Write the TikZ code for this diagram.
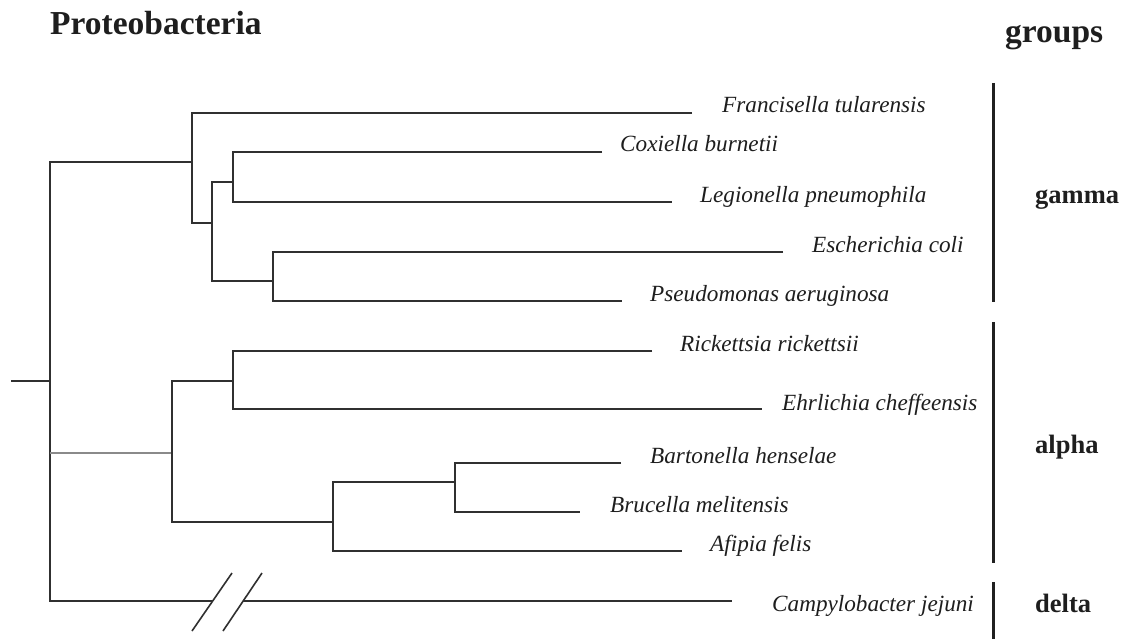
\documentclass[tikz,border=0pt]{standalone}
\usepackage{fontspec}
\setmainfont{Liberation Serif}
\definecolor{linecol}{HTML}{303030}
\definecolor{lightcol}{HTML}{8A8A8A}
\definecolor{barcol}{HTML}{202020}
\definecolor{txtcol}{HTML}{1E1E1E}
\begin{document}
\begin{tikzpicture}[x=1pt,y=-1pt,
  br/.style={line width=1.4pt, draw=linecol},
  lbr/.style={line width=1.4pt, draw=lightcol},
  bar/.style={line width=3pt, draw=barcol},
  sp/.style={anchor=base west, inner sep=0pt, text=txtcol, font=\fontsize{23.2}{23.2}\selectfont\itshape},
  grp/.style={anchor=base west, inner sep=0pt, text=txtcol, font=\fontsize{26.5}{26.5}\selectfont\bfseries},
  ttl/.style={anchor=base west, inner sep=0pt, text=txtcol, font=\fontsize{33.5}{33.5}\selectfont\bfseries}]
\useasboundingbox (0,0) rectangle (1123,639);
\fill[white] (0,0) rectangle (1123,639);
% internal nodes
\coordinate (S) at (11,381);
\coordinate (R) at (50,381);
\coordinate (G) at (192,162);
\coordinate (G2) at (212,223);
\coordinate (G3) at (233,182);
\coordinate (G4) at (273,281);
\coordinate (A) at (172,453);
\coordinate (A1) at (233,381);
\coordinate (A2) at (333,522);
\coordinate (A3) at (455,482);
% break points on the Campylobacter branch
\coordinate (brk1) at (212,601);
\coordinate (brk2) at (243,601);
% tips
\coordinate (tFra) at (692,113);
\coordinate (tCox) at (602,152);
\coordinate (tLeg) at (672,202);
\coordinate (tEco) at (783,252);
\coordinate (tPse) at (622,301);
\coordinate (tRic) at (652,351);
\coordinate (tEhr) at (762,409);
\coordinate (tBar) at (621,463);
\coordinate (tBru) at (580,512);
\coordinate (tAfi) at (682,551);
\coordinate (tCam) at (732,601);
% branches
\draw[br] (S) -- (R);
\draw[br] (R) |- (G);
\draw[br] (R) |- (brk1);
\draw[br] (brk2) -- (tCam);
\draw[lbr] (R |- A) -- (A);
\draw[br] (tFra) -| (G) |- (G2);
\draw[br] (G3) -| (G2) |- (G4);
\draw[br] (tCox) -| (G3) |- (tLeg);
\draw[br] (tEco) -| (G4) |- (tPse);
\draw[br] (A1) -| (A) |- (A2);
\draw[br] (tRic) -| (A1) |- (tEhr);
\draw[br] (A3) -| (A2) |- (tAfi);
\draw[br] (tBar) -| (A3) |- (tBru);
% break marks
\draw[br, line width=1.6pt] (192,631) -- (232,573);
\draw[br, line width=1.6pt] (223,631) -- (262,573);
% species labels
\node[sp] (lFra) at (722,113) {Francisella tularensis};
\node[sp] (lCox) at (620,152) {Coxiella burnetii};
\node[sp] (lLeg) at (700,202) {Legionella pneumophila};
\node[sp] (lEco) at (812,252) {Escherichia coli};
\node[sp] (lPse) at (650,301) {Pseudomonas aeruginosa};
\node[sp] (lRic) at (680,351) {Rickettsia rickettsii};
\node[sp] (lEhr) at (782,410) {Ehrlichia cheffeensis};
\node[sp] (lBar) at (650,463) {Bartonella henselae};
\node[sp] (lBru) at (610,512) {Brucella melitensis};
\node[sp] (lAfi) at (710,551) {Afipia felis};
\node[sp] (lCam) at (772,611) {Campylobacter jejuni};
% group bars
\coordinate (gTop) at (993,83);  \coordinate (gBot) at (993,302);
\coordinate (aTop) at (993,322); \coordinate (aBot) at (993,563);
\coordinate (dTop) at (993,582); \coordinate (dBot) at (993,639);
\draw[bar] (gTop) -- (gBot);
\draw[bar] (aTop) -- (aBot);
\draw[bar] (dTop) -- (dBot);
% titles and group labels
\node[ttl] (title) at (50,35) {Proteobacteria};
\node[ttl] (groups) at (1005,43) {groups};
\node[grp] (gamma) at (1035,203) {gamma};
\node[grp] (alpha) at (1035,453) {alpha};
\node[grp] (delta) at (1035,612) {delta};
\end{tikzpicture}
\end{document}
